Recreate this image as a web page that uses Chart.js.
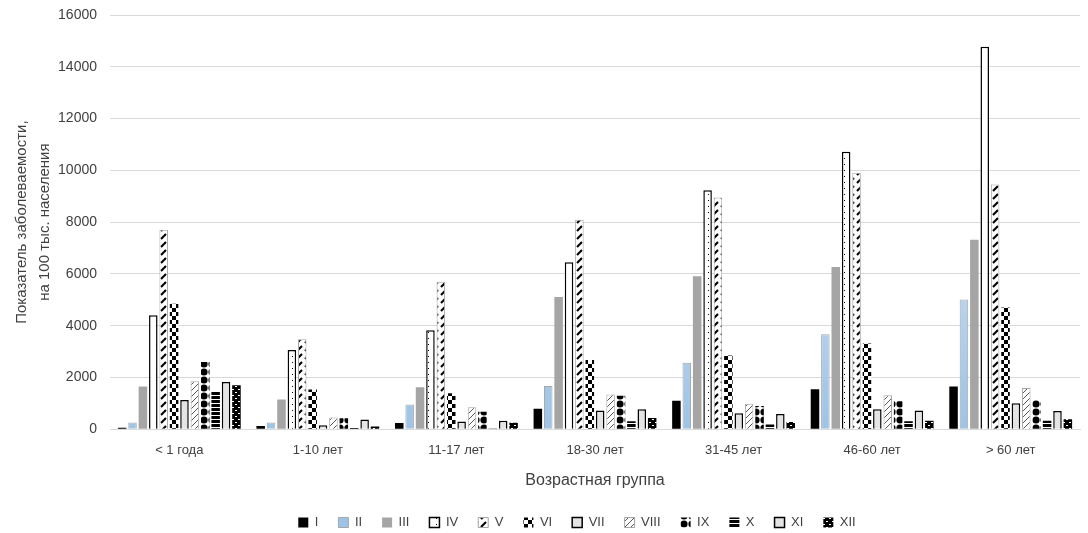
<!DOCTYPE html>
<html>
<head>
<meta charset="utf-8">
<script src="https://cdn.jsdelivr.net/npm/chart.js"></script>
<style>
  html, body { margin: 0; padding: 0; background: #fff; }
  #wrap { width: 1088px; height: 533px; }
</style>
</head>
<body>
<div id="wrap"><canvas id="chart" width="1088" height="533"></canvas></div>
<script>
const groups = ['< 1 года', '1-10 лет', '11-17 лет', '18-30 лет', '31-45 лет', '46-60 лет', '> 60 лет'];
const seriesNames = ['I', 'II', 'III', 'IV', 'V', 'VI', 'VII', 'VIII', 'IX', 'X', 'XI', 'XII'];

const s1  = [60, 120, 240, 790, 1100, 1540, 1650];
const s2  = [260, 260, 950, 1670, 2570, 3670, 5010];
const s3  = [1650, 1150, 1620, 5110, 5910, 6270, 7320];
const s4  = [4400, 3060, 3820, 6450, 9230, 10720, 14770];
const s5  = [7700, 3470, 5700, 8090, 8950, 9910, 9450];
const s6  = [4850, 1530, 1390, 2670, 2850, 3310, 4700];
const s7  = [1130, 150, 300, 720, 620, 770, 1000];
const s8  = [1850, 450, 850, 1340, 980, 1310, 1590];
const s9  = [2600, 420, 670, 1290, 900, 1080, 1130];
const s10 = [1440, 50, 30, 310, 180, 310, 330];
const s11 = [1820, 370, 330, 770, 590, 720, 700];
const s12 = [1700, 100, 250, 430, 280, 330, 380];

const yTicks = [0, 2000, 4000, 6000, 8000, 10000, 12000, 14000, 16000];

function tile(w, h, draw) {
  const c = document.createElement('canvas');
  c.width = w; c.height = h;
  const g = c.getContext('2d');
  draw(g);
  return g.createPattern(c, 'repeat');
}

const ctx = document.getElementById('chart').getContext('2d');

const blueGrad = ctx.createLinearGradient(0, 15, 0, 430);
blueGrad.addColorStop(0, '#f4f8fc');
blueGrad.addColorStop(1, '#9dc3e6');

const patDots = tile(8, 6, g => {
  g.fillStyle = '#fff'; g.fillRect(0, 0, 8, 6);
  g.fillStyle = '#000'; g.fillRect(4, 2, 1, 1);
});
const patDiag = tile(8, 8, g => {
  g.fillStyle = '#fff'; g.fillRect(0, 0, 8, 8);
  g.strokeStyle = '#000'; g.lineWidth = 2.2;
  g.beginPath(); g.moveTo(1, 7); g.lineTo(6, 2); g.stroke();
});
const patChecker = tile(8, 8, g => {
  g.fillStyle = '#fff'; g.fillRect(0, 0, 8, 8);
  g.fillStyle = '#000'; g.fillRect(0, 0, 4, 4); g.fillRect(4, 4, 4, 4);
});
const patWave = tile(6, 6, g => {
  g.fillStyle = '#fff'; g.fillRect(0, 0, 6, 6);
  g.strokeStyle = '#555'; g.lineWidth = 1;
  g.beginPath(); g.moveTo(0, 6); g.lineTo(6, 0); g.stroke();
});
const patCircles = tile(8, 8, g => {
  g.fillStyle = '#fff'; g.fillRect(0, 0, 8, 8);
  g.fillStyle = '#000';
  g.beginPath(); g.arc(4, 4, 3.6, 0, Math.PI * 2); g.fill();
});
const patHoriz = tile(4, 4, g => {
  g.fillStyle = '#000'; g.fillRect(0, 0, 4, 4);
  g.fillStyle = '#fff'; g.fillRect(0, 3, 4, 1);
});
const patDash = tile(6, 6, g => {
  g.fillStyle = '#000'; g.fillRect(0, 0, 6, 6);
  g.fillStyle = '#fff'; g.fillRect(1, 2, 2, 1); g.fillRect(4, 5, 2, 1);
});

const values = [s1, s2, s3, s4, s5, s6, s7, s8, s9, s10, s11, s12];
const fills = ['#000000', blueGrad, '#a5a5a5', patDots, patDiag, patChecker, '#e4e4e4', patWave, patCircles, patHoriz, '#e4e4e4', patDash];
const borders = ['#000000', '#a6a6a6', '#a5a5a5', '#000000', '#a6a6a6', '#000000', '#000000', '#a6a6a6', '#000000', '#000000', '#000000', '#000000'];
const borderWidths = [0, 1, 0, 1.5, 1, 0, 1.5, 1, 0, 0, 1.5, 0];

const datasets = values.map((v, i) => ({
  label: seriesNames[i],
  data: v,
  backgroundColor: fills[i],
  borderColor: borders[i],
  borderWidth: borderWidths[i],
  categoryPercentage: 0.9,
  barPercentage: 0.82
}));

const font = "'Liberation Sans', Arial, sans-serif";

// legend in the original sits a bit right of the canvas centre
const legendShift = {
  id: 'legendShift',
  afterLayout(chart) {
    const lg = chart.legend;
    if (lg) { lg.left += 34; lg.right += 34; }
  }
};

new Chart(ctx, {
  type: 'bar',
  data: { labels: groups, datasets: datasets },
  plugins: [legendShift],
  options: {
    responsive: false,
    animation: false,
    layout: { padding: { left: 6, right: 8, top: 0, bottom: -6 } },
    plugins: {
      legend: {
        position: 'bottom',
        labels: {
          font: { family: font, size: 13 },
          color: '#404040',
          boxWidth: 10,
          boxHeight: 10,
          padding: 20
        }
      },
      tooltip: { enabled: false }
    },
    scales: {
      x: {
        grid: { display: false, drawTicks: false },
        border: { display: true, color: '#d9d9d9' },
        ticks: { font: { family: font, size: 13 }, color: '#404040', padding: 13 },
        title: {
          display: true,
          text: 'Возрастная группа',
          font: { family: font, size: 16 },
          color: '#404040',
          padding: { top: 0, bottom: 6 }
        }
      },
      y: {
        min: 0,
        max: 16000,
        afterBuildTicks: axis => { axis.ticks = yTicks.map(v => ({ value: v })); },
        afterFit: axis => { axis.width = 104; axis.paddingTop = 15; },
        grid: { color: '#d9d9d9', drawTicks: false },
        border: { display: false },
        ticks: {
          font: { family: font, size: 14 },
          color: '#404040',
          padding: 13,
          callback: v => String(v)
        },
        title: {
          display: true,
          text: ['Показатель заболеваемости,', 'на 100 тыс. населения'],
          font: { family: font, size: 15, lineHeight: 1.55 },
          color: '#404040',
          padding: { bottom: 0 }
        }
      }
    }
  }
});
</script>
</body>
</html>
